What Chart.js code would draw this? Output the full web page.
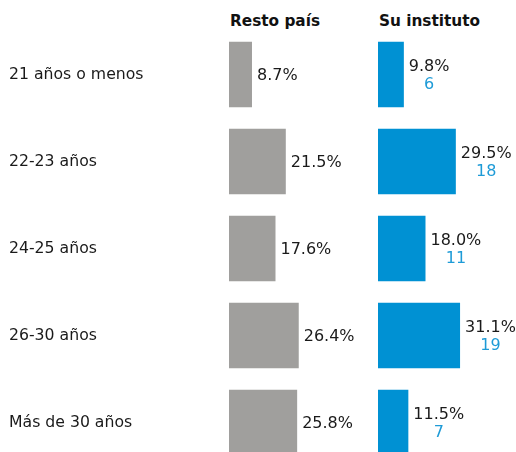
<!DOCTYPE html>
<html>
<head>
<meta charset="utf-8">
<script src="https://cdn.jsdelivr.net/npm/chart.js@4.4.1/dist/chart.umd.min.js"></script>
<style>
  html, body { margin: 0; padding: 0; background: #fff; }
  #wrap { position: relative; width: 516px; height: 452px; overflow: hidden; font-family: "DejaVu Sans", Verdana, sans-serif; }
  .title { position: absolute; top: 12px; font-weight: bold; font-size: 15.3px; color: #111; white-space: nowrap; }
  canvas { position: absolute; top: 0; }
</style>
</head>
<body>
<div id="wrap">
  <div class="title" id="t1" style="left:230px;"></div>
  <div class="title" id="t2" style="left:379px;"></div>
  <canvas id="cA" width="378" height="480" style="left:0;width:378px;height:480px;"></canvas>
  <canvas id="cB" width="138" height="480" style="left:378px;width:138px;height:480px;"></canvas>
</div>
<script>
const categories = ["21 años o menos", "22-23 años", "24-25 años", "26-30 años", "Más de 30 años"];
const restoPais = [8.7, 21.5, 17.6, 26.4, 25.8];
const suInstituto = [9.8, 29.5, 18.0, 31.1, 11.5];
const suInstitutoN = [6, 18, 11, 19, 7];
const panelTitles = ["Resto país", "Su instituto"];

document.getElementById('t1').textContent = panelTitles[0];
document.getElementById('t2').textContent = panelTitles[1];

const FONT = '"DejaVu Sans", Verdana, sans-serif';
const GRAY = '#A09F9D';
const BLUE = '#0091D3';
const COUNT_BLUE = '#1E9BD7';
const TEXT = '#1a1a1a';

function labelPlugin(counts) {
  return {
    id: 'barLabels',
    afterDatasetsDraw(chart) {
      const ctx = chart.ctx;
      const meta = chart.getDatasetMeta(0);
      const data = chart.data.datasets[0].data;
      ctx.save();
      ctx.font = '16px ' + FONT;
      ctx.textBaseline = 'middle';
      meta.data.forEach((bar, i) => {
        const txt = data[i].toFixed(1) + '%';
        const x = bar.x + 5;
        if (counts) {
          const w = ctx.measureText(txt).width;
          ctx.fillStyle = TEXT;
          ctx.textAlign = 'left';
          ctx.fillText(txt, x, bar.y - 8);
          ctx.fillStyle = COUNT_BLUE;
          ctx.textAlign = 'center';
          ctx.fillText(String(counts[i]), x + w / 2, bar.y + 10);
        } else {
          ctx.fillStyle = TEXT;
          ctx.textAlign = 'left';
          ctx.fillText(txt, x, bar.y + 1);
        }
      });
      ctx.restore();
    }
  };
}

function makeChart(id, values, color, xMax, showCats, counts) {
  return new Chart(document.getElementById(id), {
    type: 'bar',
    data: {
      labels: categories,
      datasets: [{ data: values, backgroundColor: color, borderWidth: 0, barPercentage: 0.755, categoryPercentage: 1.0 }]
    },
    options: {
      indexAxis: 'y',
      responsive: false,
      animation: false,
      events: [],
      layout: { padding: { left: showCats ? 9 : 0, right: 0, top: 31, bottom: 14 } },
      plugins: { legend: { display: false }, tooltip: { enabled: false }, title: { display: false } },
      scales: {
        x: { display: false, min: 0, max: xMax },
        y: {
          display: showCats,
          grid: { display: false, drawTicks: false },
          border: { display: false },
          ticks: { crossAlign: 'far', padding: 0, color: TEXT, font: { family: FONT, size: 15.7 } },
          afterFit(scale) { if (showCats) scale.width = 220; }
        }
      }
    },
    plugins: [labelPlugin(counts)]
  });
}

makeChart('cA', restoPais, GRAY, 56.4, true, null);
makeChart('cB', suInstituto, BLUE, 52.3, false, suInstitutoN);
</script>
</body>
</html>
